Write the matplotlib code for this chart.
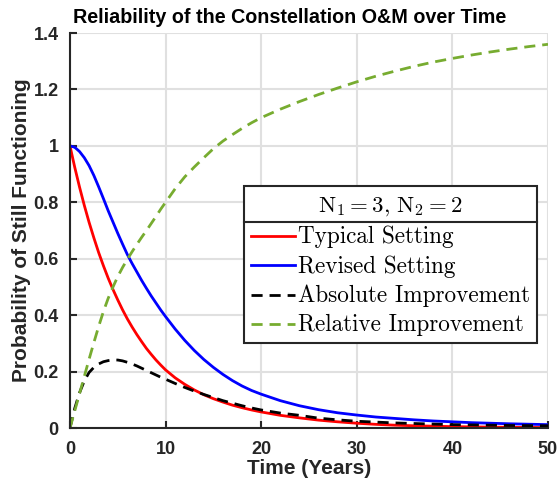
import matplotlib
matplotlib.use('Agg')
import matplotlib.pyplot as plt
from matplotlib.lines import Line2D

# values
t = [0, 0.5, 1, 1.5, 2, 2.5, 3, 3.5, 4, 4.5, 5, 5.5, 6, 6.5, 7, 7.5, 8, 8.5, 9, 9.5, 10,
     11, 12, 13, 14, 15, 16, 17, 18, 19, 20,
     22, 24, 26, 28, 30, 32, 34, 36, 38, 40, 42, 44, 46, 48, 50]
typical = [1.0, 0.924, 0.854, 0.789, 0.729, 0.674, 0.622, 0.575, 0.531, 0.491, 0.454,
           0.419, 0.387, 0.358, 0.331, 0.306, 0.282, 0.261, 0.241, 0.223, 0.206,
           0.178, 0.155, 0.135, 0.118, 0.104, 0.092, 0.081, 0.072, 0.064, 0.057,
           0.045, 0.036, 0.028, 0.022, 0.017, 0.013, 0.010, 0.008, 0.0065, 0.005,
           0.004, 0.0032, 0.0026, 0.002, 0.0016]
revised = [1.0, 0.995, 0.98, 0.958, 0.93, 0.895, 0.855, 0.813, 0.77, 0.73, 0.69,
           0.652, 0.615, 0.583, 0.553, 0.523, 0.495, 0.468, 0.443, 0.418, 0.395,
           0.351, 0.311, 0.275, 0.243, 0.215, 0.19, 0.168, 0.149, 0.133, 0.12,
           0.097, 0.079, 0.065, 0.054, 0.046, 0.039, 0.034, 0.029, 0.025, 0.022,
           0.019, 0.017, 0.015, 0.0135, 0.012]
absolute = [0.0, 0.07, 0.125, 0.167, 0.197, 0.215, 0.227, 0.235, 0.239, 0.241, 0.241,
            0.238, 0.233, 0.227, 0.22, 0.212, 0.204, 0.196, 0.188, 0.18, 0.173,
            0.158, 0.144, 0.131, 0.119, 0.108, 0.097, 0.088, 0.079, 0.071, 0.064,
            0.053, 0.045, 0.035, 0.029, 0.024, 0.021, 0.018, 0.016, 0.014, 0.012,
            0.011, 0.010, 0.009, 0.0085, 0.008]
relative = [0.0, 0.061, 0.122, 0.183, 0.244, 0.303, 0.36, 0.413, 0.46, 0.50, 0.537,
            0.569, 0.598, 0.625, 0.651, 0.676, 0.70, 0.725, 0.75, 0.776, 0.80,
            0.848, 0.89, 0.925, 0.958, 0.99, 1.017, 1.04, 1.062, 1.082, 1.10,
            1.13, 1.157, 1.182, 1.205, 1.227, 1.247, 1.265, 1.282, 1.297, 1.31,
            1.322, 1.333, 1.343, 1.352, 1.36]

xticks = [0, 10, 20, 30, 40, 50]
yticks = [0, 0.2, 0.4, 0.6, 0.8, 1.0, 1.2, 1.4]
ytick_labels = ['0', '0.2', '0.4', '0.6', '0.8', '1', '1.2', '1.4']

plt.rcParams['font.family'] = ['Liberation Sans', 'DejaVu Sans']
plt.rcParams['mathtext.fontset'] = 'cm'

fig = plt.figure(figsize=(5.58, 4.93), dpi=100)
ax = fig.add_axes([0.1254, 0.1318, 0.8566, 0.8012])

lw = 2.0
ax.plot(t, typical, color='#ff0000', lw=lw, label='Typical Setting')
ax.plot(t, revised, color='#0000ff', lw=lw, label='Revised Setting')
ax.plot(t, absolute, color='black', lw=lw, ls=(0, (4, 2.5)), label='Absolute Improvement')
ax.plot(t, relative, color='#77ac30', lw=lw, ls=(0, (4, 2.5)), label='Relative Improvement')

ax.set_xlim(0, 50)
ax.set_ylim(0, 1.4)
ax.set_xticks(xticks)
ax.set_yticks(yticks)
ax.set_yticklabels(ytick_labels)
ax.grid(True, color='#e0e0e0', lw=1.5)
ax.set_axisbelow(True)

for s in ['top', 'right']:
    ax.spines[s].set_visible(False)
for s in ['left', 'bottom']:
    ax.spines[s].set_color('#262626')
    ax.spines[s].set_linewidth(1.5)
ax.tick_params(direction='in', length=5, width=1.5, color='#262626',
               labelsize=13, labelcolor='#262626')
ax.tick_params(axis='x', pad=9)
ax.tick_params(axis='y', pad=8)
for lab in ax.get_xticklabels() + ax.get_yticklabels():
    lab.set_fontweight('bold')

# title sits a bit left of the axes centre in the reference
ax.text(0.46, 1.0 + 6 / 395, 'Reliability of the Constellation O&M over Time',
        transform=ax.transAxes, ha='center', va='bottom', fontsize=14.2, fontweight='bold')
ax.set_xlabel('Time (Years)', fontsize=15, fontweight='bold', color='#262626', labelpad=1)
ax.set_ylabel('Probability of Still Functioning', fontsize=15, fontweight='bold',
              color='#262626', labelpad=2)

leg = ax.legend(loc='upper left', bbox_to_anchor=(0.364, 0.612),
                title=r'$\mathrm{N}_1 = 3,\, \mathrm{N}_2 = 2$',
                prop={'family': 'cmr10', 'size': 16.7}, title_fontsize=16.5,
                fancybox=False, edgecolor='#262626', framealpha=1,
                handlelength=1.9, handletextpad=0.15, labelspacing=0.3,
                borderpad=0.3, borderaxespad=0, handleheight=0.6)
leg.get_frame().set_linewidth(1.5)
leg._legend_box.sep = 6

fig.canvas.draw()
tb = leg.get_title().get_window_extent()
fb = leg.get_frame().get_window_extent()
inv = fig.transFigure.inverted()
y_sep = inv.transform((0, tb.y0 - 4))[1]
x0 = inv.transform((fb.x0, 0))[0]
x1 = inv.transform((fb.x1, 0))[0]
fig.add_artist(Line2D([x0, x1], [y_sep, y_sep], color='#262626', lw=1.5))

fig.savefig('out.png', dpi=100)
